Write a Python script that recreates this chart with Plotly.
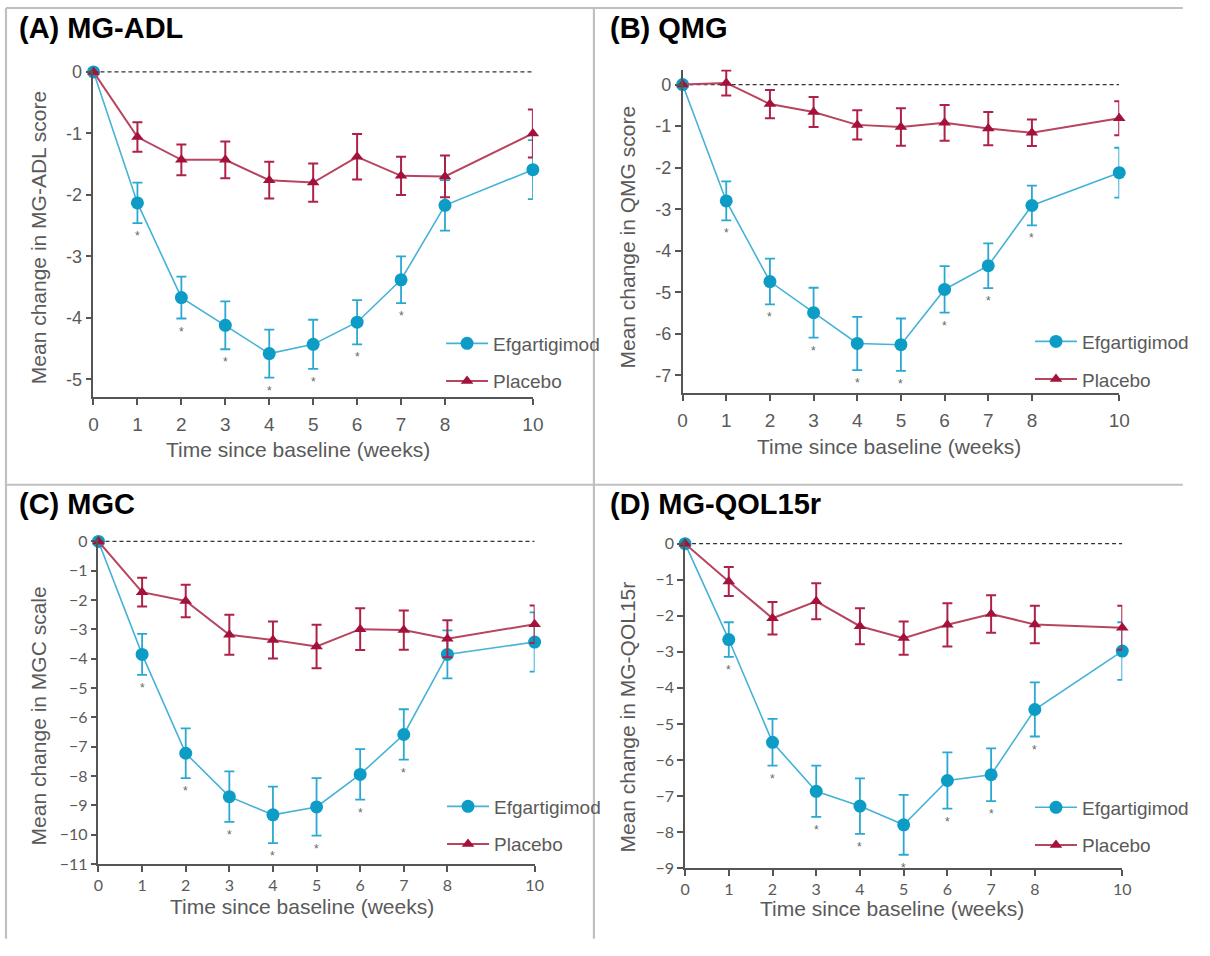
import plotly.graph_objects as go

# ---- data -------------------------------------------------------------
weeks = [0, 1, 2, 3, 4, 5, 6, 7, 8, 10]
week_ticks = [0, 1, 2, 3, 4, 5, 6, 7, 8, 10]

# (A) MG-ADL
adl_efg = [0, -2.13, -3.67, -4.12, -4.58, -4.43, -4.07, -3.38, -2.17, -1.59]
adl_efg_err = [0, 0.33, 0.34, 0.39, 0.39, 0.40, 0.36, 0.38, 0.41, 0.48]
adl_pbo = [0, -1.06, -1.43, -1.43, -1.76, -1.80, -1.38, -1.69, -1.70, -1.00]
adl_pbo_err = [0, 0.24, 0.25, 0.30, 0.30, 0.31, 0.37, 0.31, 0.34, 0.39]
adl_sig_weeks = [1, 2, 3, 4, 5, 6, 7]
adl_yticks = [0, -1, -2, -3, -4, -5]

# (B) QMG
qmg_efg = [0, -2.80, -4.74, -5.49, -6.23, -6.26, -4.93, -4.36, -2.91, -2.12]
qmg_efg_err = [0, 0.47, 0.55, 0.60, 0.64, 0.63, 0.56, 0.54, 0.48, 0.60]
qmg_pbo = [0, 0.04, -0.47, -0.66, -0.97, -1.02, -0.92, -1.06, -1.16, -0.81]
qmg_pbo_err = [0, 0.30, 0.34, 0.36, 0.35, 0.45, 0.43, 0.40, 0.32, 0.41]
qmg_sig_weeks = [1, 2, 3, 4, 5, 6, 7, 8]
qmg_yticks = [0, -1, -2, -3, -4, -5, -6, -7]

# (C) MGC
mgc_efg = [0, -3.85, -7.22, -8.70, -9.32, -9.05, -7.94, -6.58, -3.85, -3.43]
mgc_efg_err = [0, 0.70, 0.85, 0.86, 0.96, 0.98, 0.86, 0.86, 0.82, 1.01]
mgc_pbo = [0, -1.73, -2.03, -3.18, -3.36, -3.58, -2.99, -3.02, -3.32, -2.82]
mgc_pbo_err = [0, 0.49, 0.55, 0.68, 0.63, 0.74, 0.71, 0.67, 0.63, 0.64]
mgc_sig_weeks = [1, 2, 3, 4, 5, 6, 7]
mgc_yticks = [0, -1, -2, -3, -4, -5, -6, -7, -8, -9, -10, -11]

# (D) MG-QOL15r
qol_efg = [0, -2.66, -5.51, -6.87, -7.28, -7.80, -6.57, -6.41, -4.60, -2.98]
qol_efg_err = [0, 0.48, 0.65, 0.71, 0.77, 0.83, 0.78, 0.73, 0.75, 0.80]
qol_pbo = [0, -1.05, -2.07, -1.60, -2.29, -2.62, -2.25, -1.95, -2.24, -2.33]
qol_pbo_err = [0, 0.40, 0.45, 0.50, 0.50, 0.46, 0.60, 0.52, 0.52, 0.61]
qol_sig_weeks = [1, 2, 3, 4, 5, 6, 7, 8]
qol_yticks = [0, -1, -2, -3, -4, -5, -6, -7, -8, -9]

x_title = "Time since baseline (weeks)"

# ---- styling ----------------------------------------------------------
PAGE_PAD = 8                      # default body spacing around the figure
W, H = 1210 - 2 * PAGE_PAD, 956 - 2 * PAGE_PAD
EFG_MARK = "#0C9CC6"
EFG_LINE = "#45B2D7"
EFG_ERR = "#2BA8D2"
PBO_MARK = "#A3123A"
PBO_LINE = "#B84560"
PBO_ERR = "#AE2247"
GREY_TXT = "#5A5A5A"
AXIS_COL = "#555555"
SANS = "Liberation Sans, Arial, sans-serif"
LATO = "Lato, Liberation Sans, sans-serif"


def px_x(p):
    """Page pixel column -> paper fraction."""
    return (p - PAGE_PAD) / W


def px_y(p):
    """Page pixel row -> paper fraction."""
    return 1 - (p - PAGE_PAD) / H


panels = [
    dict(title="(A) MG-ADL", ylabel="Mean change in MG-ADL score",
         efg=adl_efg, efg_err=adl_efg_err, pbo=adl_pbo, pbo_err=adl_pbo_err,
         sig=adl_sig_weeks, yticks=adl_yticks, hyphen=True,
         xdom=(98.3, 546.7), ydom=(70.9, 405), yrange=(-5.29, 0.05),
         title_xy=(20, 29), legend_xy=(453, 331),
         xt_xy=(306.7, 458), yt_xy=(42.4, 242.5),
         xtick=(SANS, 19), ytick=(SANS, 18), xlab_pad=3),
    dict(title="(B) QMG", ylabel="Mean change in QMG score",
         efg=qmg_efg, efg_err=qmg_efg_err, pbo=qmg_pbo, pbo_err=qmg_pbo_err,
         sig=qmg_sig_weeks, yticks=qmg_yticks, hyphen=True,
         xdom=(699.5, 1145.1), ydom=(71.7, 401), yrange=(-7.43, 0.36),
         title_xy=(623, 29), legend_xy=(1054, 329),
         xt_xy=(910, 455), yt_xy=(643.6, 241.7),
         xtick=(SANS, 19), ytick=(SANS, 18), xlab_pad=3),
    dict(title="(C) MGC", ylabel="Mean change in MGC scale",
         efg=mgc_efg, efg_err=mgc_efg_err, pbo=mgc_pbo, pbo_err=mgc_pbo_err,
         sig=mgc_sig_weeks, yticks=mgc_yticks, hyphen=False,
         xdom=(103.4, 548.5), ydom=(548.7, 880), yrange=(-11, 0.1),
         title_xy=(20, 514), legend_xy=(454, 802),
         xt_xy=(310.6, 922.7), yt_xy=(42.4, 729),
         xtick=(LATO, 16), ytick=(LATO, 16), xlab_pad=0),
    dict(title="(D) MG-QOL15r", ylabel="Mean change in MG-QOL15r",
         efg=qol_efg, efg_err=qol_efg_err, pbo=qol_pbo, pbo_err=qol_pbo_err,
         sig=qol_sig_weeks, yticks=qol_yticks, hyphen=False,
         xdom=(702, 1148.2), ydom=(550.3, 884), yrange=(-9, 0.1),
         title_xy=(623, 514), legend_xy=(1054, 803),
         xt_xy=(913.6, 925), yt_xy=(643.6, 730),
         xtick=(LATO, 16), ytick=(LATO, 16), xlab_pad=0),
]

fig = go.Figure()
shapes = []
annotations = []
layout_axes = {}

for i, p in enumerate(panels, start=1):
    sfx = "" if i == 1 else str(i)
    xa, ya = f"x{sfx}", f"y{sfx}"
    leg = "legend" if i == 1 else f"legend{i}"

    fig.add_trace(go.Scatter(
        x=weeks, y=p["efg"], name="Efgartigimod", mode="lines+markers",
        xaxis=xa, yaxis=ya, legend=leg, legendgroup=f"efg{i}",
        line=dict(color=EFG_LINE, width=1.6),
        marker=dict(symbol="circle", size=13, color=EFG_MARK),
        error_y=dict(type="data", array=p["efg_err"], color=EFG_ERR,
                     thickness=1.8, width=5),
        cliponaxis=False,
    ))
    fig.add_trace(go.Scatter(
        x=weeks, y=p["pbo"], name="Placebo", mode="lines+markers",
        xaxis=xa, yaxis=ya, legend=leg, legendgroup=f"pbo{i}",
        line=dict(color=PBO_LINE, width=2),
        marker=dict(symbol="triangle-up", size=11, color=PBO_MARK),
        error_y=dict(type="data", array=p["pbo_err"], color=PBO_ERR,
                     thickness=2, width=5),
        cliponaxis=False,
    ))

    # zero reference line
    shapes.append(dict(type="line", xref=xa, yref=ya, x0=0, x1=10, y0=0, y1=0,
                       line=dict(color="#333333", width=1.2, dash="4px,3px"),
                       layer="below"))

    # significance markers beneath the efgartigimod error bars
    for wk in p["sig"]:
        k = weeks.index(wk)
        annotations.append(dict(
            xref=xa, yref=ya, x=wk, y=p["efg"][k] - p["efg_err"][k],
            text="*", showarrow=False, yanchor="top", yshift=-4,
            font=dict(size=12, color="#666666", family=SANS)))

    # panel heading
    annotations.append(dict(
        xref="paper", yref="paper", x=px_x(p["title_xy"][0]),
        y=px_y(p["title_xy"][1]), xanchor="left", yanchor="middle",
        text=f"<b>{p['title']}</b>", showarrow=False,
        font=dict(size=29, color="#000000", family=SANS)))

    # axis titles
    annotations.append(dict(
        xref="paper", yref="paper", x=px_x(p["xt_xy"][0]), y=px_y(p["xt_xy"][1]),
        xanchor="center", yanchor="middle", text=x_title, showarrow=False,
        font=dict(size=21, color=GREY_TXT, family=SANS)))
    annotations.append(dict(
        xref="paper", yref="paper", x=px_x(p["yt_xy"][0]), y=px_y(p["yt_xy"][1]),
        xanchor="center", yanchor="middle", text=p["ylabel"], textangle=-90,
        showarrow=False, font=dict(size=21, color=GREY_TXT, family=SANS)))

    ytext = [(f"{v}" if p["hyphen"] else (f"\u2212{abs(v)}" if v < 0 else f"{v}"))
             for v in p["yticks"]]

    layout_axes[f"xaxis{sfx}"] = dict(
        domain=[px_x(p["xdom"][0]), px_x(p["xdom"][1])], anchor=ya,
        range=[0, 10], tickvals=week_ticks, ticktext=[str(t) for t in week_ticks],
        showline=True, linecolor=AXIS_COL, linewidth=1.5,
        ticks="outside", ticklen=6, tickwidth=1.5, tickcolor=AXIS_COL,
        showgrid=False, zeroline=False,
        tickfont=dict(family=p["xtick"][0], size=p["xtick"][1], color=GREY_TXT),
        ticklabelstandoff=p["xlab_pad"],
    )
    layout_axes[f"yaxis{sfx}"] = dict(
        domain=[px_y(p["ydom"][1]), px_y(p["ydom"][0])], anchor=xa,
        range=list(p["yrange"]), tickvals=p["yticks"], ticktext=ytext,
        showline=True, linecolor=AXIS_COL, linewidth=1.5,
        ticks="outside", ticklen=6, tickwidth=1.5, tickcolor=AXIS_COL,
        showgrid=False, zeroline=False,
        tickfont=dict(family=p["ytick"][0], size=p["ytick"][1], color=GREY_TXT),
    )
    layout_axes[leg] = dict(
        x=px_x(p["legend_xy"][0]), y=px_y(p["legend_xy"][1]),
        xanchor="left", yanchor="top", bgcolor="rgba(0,0,0,0)",
        font=dict(size=19, color=GREY_TXT, family=SANS),
        tracegroupgap=10, itemwidth=42,
    )

# panel frame lines
FRAME = "#C0C0C0"
for (x0, y0, x1, y1) in [(9, 9, 1210, 9), (9, 9, 9, 956),
                         (609, 9, 609, 956), (9, 494, 1210, 494)]:
    shapes.append(dict(type="line", xref="paper", yref="paper",
                       x0=px_x(x0), x1=px_x(x1), y0=px_y(y0), y1=px_y(y1),
                       line=dict(color=FRAME, width=2.2)))

fig.update_layout(
    width=W, height=H, margin=dict(l=0, r=0, t=0, b=0),
    paper_bgcolor="white", plot_bgcolor="white",
    showlegend=True, shapes=shapes, annotations=annotations,
    **layout_axes,
)

fig.write_html("out.html")
